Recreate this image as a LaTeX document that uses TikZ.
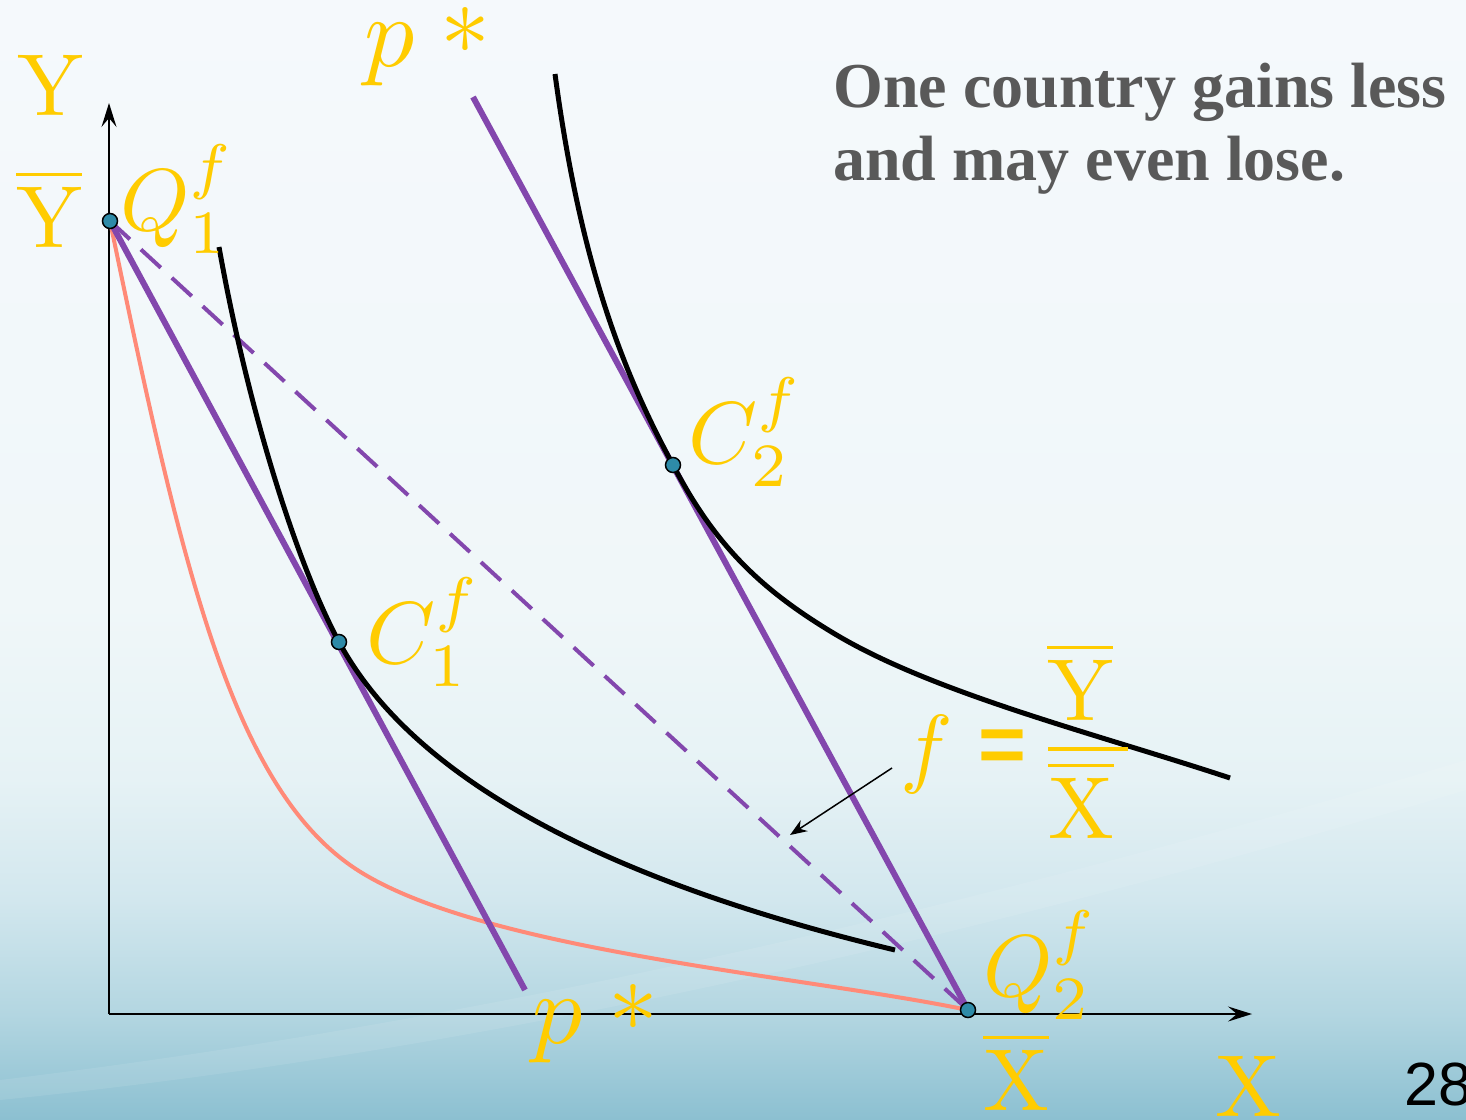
\documentclass[tikz,border=0pt]{standalone}
\usepackage{fontspec}
\usepackage{graphicx}
\usepackage{tikz}
\usetikzlibrary{arrows.meta, positioning}
\newfontfamily\notefont{Liberation Serif}
\newfontfamily\pagefont{Liberation Sans}
\definecolor{LabelYellow}{HTML}{FFCC00}
\definecolor{BudgetPurple}{HTML}{8347AD}
\definecolor{PPFSalmon}{HTML}{FF8A78}
\definecolor{DotTeal}{HTML}{2E8BA8}
\definecolor{NoteGray}{HTML}{595959}
\definecolor{BgTop}{HTML}{F5F9FC}
\definecolor{BgHigh}{HTML}{F0F7F9}
\definecolor{BgMid}{HTML}{E6F2F5}
\definecolor{BgLow}{HTML}{D2E7EE}
\definecolor{BgAxis}{HTML}{B3D6E1}
\definecolor{BgBot}{HTML}{8CC0D1}
\pgfdeclareverticalshading{slidebg}{100bp}{color(0bp)=(BgBot); color(25bp)=(BgBot); color(29.7bp)=(BgAxis); color(34.8bp)=(BgLow); color(40.2bp)=(BgMid); color(48bp)=(BgHigh); color(75bp)=(BgTop); color(100bp)=(BgTop)}
\newcommand{\lblmath}[1]{\scalebox{8.8}{$#1$}}
\newcommand{\pstar}{\scalebox{10}{$p$\hspace{2.6pt}\raisebox{-1.6pt}{*}}}
\tikzset{
    axis/.style={draw=black, line width=1.6pt, -{Stealth[length=24pt, width=15pt, inset=9pt]}},
    ppf/.style={draw=PPFSalmon, line width=4pt},
    budget/.style={draw=BudgetPurple, line width=6pt},
    tradeline/.style={draw=BudgetPurple, line width=4pt, dash pattern=on 27pt off 15pt},
    indiff/.style={draw=black, line width=5pt},
    dot/.style={circle, draw=black, line width=1.5pt, fill=DotTeal, inner sep=0pt, minimum size=15pt},
    lbl/.style={text=LabelYellow, inner sep=0pt, anchor=base west},
    note/.style={text=NoteGray, inner sep=0pt, align=left, font=\notefont\bfseries\fontsize{64}{73}\selectfont},
    pointer/.style={draw=black, line width=1.5pt, -{Stealth[length=17pt, width=13pt]}}
}

\begin{document}
\begin{tikzpicture}[x=1pt, y=-1pt]
        % slide background
        \shade[shading=slidebg] (0,0) rectangle (1466,1119);
        \fill[white, opacity=0.09] (0,1080) .. controls (500,1020) and (1000,900) .. (1466,760) -- (1466,790) .. controls (1000,930) and (500,1050) .. (0,1100) -- cycle;
        \useasboundingbox (0,0) rectangle (1466,1119);

        \coordinate (o) at (109,1014);
        \coordinate (ytop) at (109,103);
        \coordinate (xend) at (1252,1014);
        \coordinate (q1) at (110,221);
        \coordinate (q2) at (968,1010);
        \coordinate (c1) at (339,642);
        \coordinate (c2) at (673,465);
        \coordinate (ptop) at (473,97);
        \coordinate (pbot) at (525,990);

        \draw[axis] (o) -- (ytop);
        \draw[axis] (o) -- (xend);

        % frontier, price lines, indifference curves
        \draw[ppf] (q1) .. controls (180,560) and (230,780) .. (350,865) .. controls (470,950) and (800,975) .. (q2);
        \draw[tradeline] (q1) -- (q2);
        \draw[budget] (q1) -- (pbot);
        \draw[budget] (ptop) -- (q2);
        \draw[indiff] (219,247) .. controls (250,420) and (300,570) .. (c1) .. controls (390,736) and (520,860) .. (895,950);
        \draw[indiff] (555,74) .. controls (580,260) and (621,369) .. (c2) .. controls (715,545) and (760,590) .. (840,637) .. controls (940,695) and (1100,735) .. (1230,778);

        \node[dot] (q1dot) at (q1) {};
        \node[dot] (q2dot) at (q2) {};
        \node[dot] (c1dot) at (c1) {};
        \node[dot] (c2dot) at (c2) {};

        % labels
        \node[lbl] (ylbl) at (17,115) {\lblmath{\mathrm{Y}}};
        \node[lbl] (ybarlbl) at (16,247) {\lblmath{\overline{\mathrm{Y}}}};
        \node[lbl] (xbarlbl) at (983,1110) {\lblmath{\overline{\mathrm{X}}}};
        \node[lbl] (xlbl) at (1215,1116) {\lblmath{\mathrm{X}}};
        \node[lbl] (q1lbl) at (120,230) {\lblmath{Q_1^f}};
        \node[lbl] (q2lbl) at (983,996) {\lblmath{Q_2^f}};
        \node[lbl] (c1lbl) at (366,663) {\lblmath{C_1^f}};
        \node[lbl] (c2lbl) at (688,463) {\lblmath{C_2^f}};
        \node[lbl] (ptoplbl) at (364,66) {\pstar};
        \node[lbl] (pbotlbl) at (532,1043) {\pstar};

        % f = Ybar / Xbar
        \node[lbl] (flbl) at (900,776) {\lblmath{f}};
        \node[lbl, anchor=center, font=\pagefont\bfseries\fontsize{82}{82}\selectfont] (eqlbl) at (1002,751) {=};
        \node[lbl] (numlbl) at (1047,720) {\lblmath{\overline{\mathrm{Y}}}};
        \node[lbl] (denlbl) at (1048,838) {\lblmath{\overline{\mathrm{X}}}};
        \coordinate (fracl) at (1048,749);
        \coordinate (fracr) at (1128,749);
        \draw[LabelYellow, line width=3.5pt] (fracl) -- (fracr);
        \coordinate (arrtail) at (892,768);
        \coordinate (arrtip) at (790,835);
        \draw[pointer] (arrtail) -- (arrtip);

        \node[note, anchor=base west] (notetxt) at (833,180) {One country gains less\\and may even lose.};
        \node[inner sep=0pt, anchor=base west, font=\pagefont\fontsize{61}{61}\selectfont] (pagenum) at (1404,1105) {28};
      \end{tikzpicture}
\end{document}
